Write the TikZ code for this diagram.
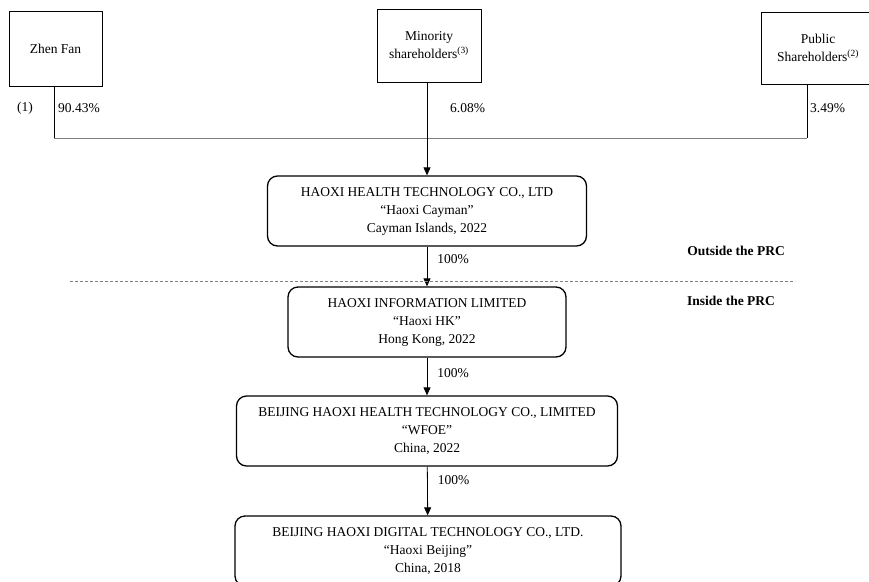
\documentclass[tikz,border=0pt]{standalone}
\usepackage{fontspec}
\setmainfont{Liberation Serif}
\usetikzlibrary{arrows.meta}

\newcommand{\chartfont}{\fontsize{13.5}{18}\selectfont}
\tikzset{
  holder/.style={draw, line width=0.8pt, align=center, inner sep=0pt, font=\chartfont},
  entity/.style={draw, line width=1.3pt, rounded corners=10pt, align=center, inner sep=0pt, minimum height=70pt, font=\chartfont},
  arr/.style={-{Triangle[length=8pt,width=7pt]}, line width=0.8pt},
  pct/.style={anchor=west, inner sep=0pt, font=\chartfont},
  zone/.style={font=\chartfont\bfseries}
}

\begin{document}
\begin{tikzpicture}[x=1pt,y=-1pt]
    \useasboundingbox (0,0) rectangle (869,581);
    \clip (0,0) rectangle (869,581);
    % shareholders
    \node[holder, minimum width=93pt, minimum height=75pt] (zhen) at (55.5,48.5) {Zhen Fan};
    \node[holder, minimum width=104pt, minimum height=73pt] (minor) at (429,45.5) {Minority\\shareholders\textsuperscript{(3)}};
    \node[holder, minimum width=114pt, minimum height=72pt] (pub) at (818,48) {Public\\Shareholders\textsuperscript{(2)}};
    % companies
    \node[entity, minimum width=319pt] (cayman) at (427,211) {HAOXI HEALTH TECHNOLOGY CO., LTD\\``Haoxi Cayman''\\Cayman Islands, 2022};
    \node[entity, minimum width=278pt] (hk) at (427,322) {HAOXI INFORMATION LIMITED\\``Haoxi HK''\\Hong Kong, 2022};
    \node[entity, minimum width=381pt] (wfoe) at (427,431) {BEIJING HAOXI HEALTH TECHNOLOGY CO., LIMITED\\``WFOE''\\China, 2022};
    \node[entity, minimum width=386pt] (bj) at (428,551) {BEIJING HAOXI DIGITAL TECHNOLOGY CO., LTD.\\``Haoxi Beijing''\\China, 2018};
    % ownership lines
    \coordinate (jl) at (54,138);
    \coordinate (jr) at (807,138);
    \draw[line width=0.8pt] (zhen.south -| jl) -- (jl);
    \draw[line width=0.8pt] (pub.south -| jr) -- (jr);
    \draw[gray, line width=1pt] (jl) -- (jr);
    \draw[arr] (minor.south -| cayman.north) -- (cayman.north);
    \node[pct] (p1) at (58,108) {90.43\%};
    \node[font=\chartfont] (n1) at (25,108) {(1)};
    \node[pct] (p2) at (450,108) {6.08\%};
    \node[pct] (p3) at (810,108) {3.49\%};
    \draw[arr] (cayman) -- node[pct, pos=0.32, xshift=10pt] (p4) {100\%} (hk);
    \draw[arr] (hk) -- node[pct, pos=0.41, xshift=10pt] (p5) {100\%} (wfoe);
    \draw[arr] (wfoe) -- node[pct, pos=0.27, xshift=10pt] (p6) {100\%} (bj);
    % PRC border
    \coordinate (bl) at (70,281);
    \coordinate (br) at (795,281);
    \draw[gray, line width=0.8pt, dash pattern=on 3pt off 2pt] (bl) -- (br);
    \node[zone] (out) at (736,251) {Outside the PRC};
    \node[zone] (in) at (731,301) {Inside the PRC};
\end{tikzpicture}
\end{document}
